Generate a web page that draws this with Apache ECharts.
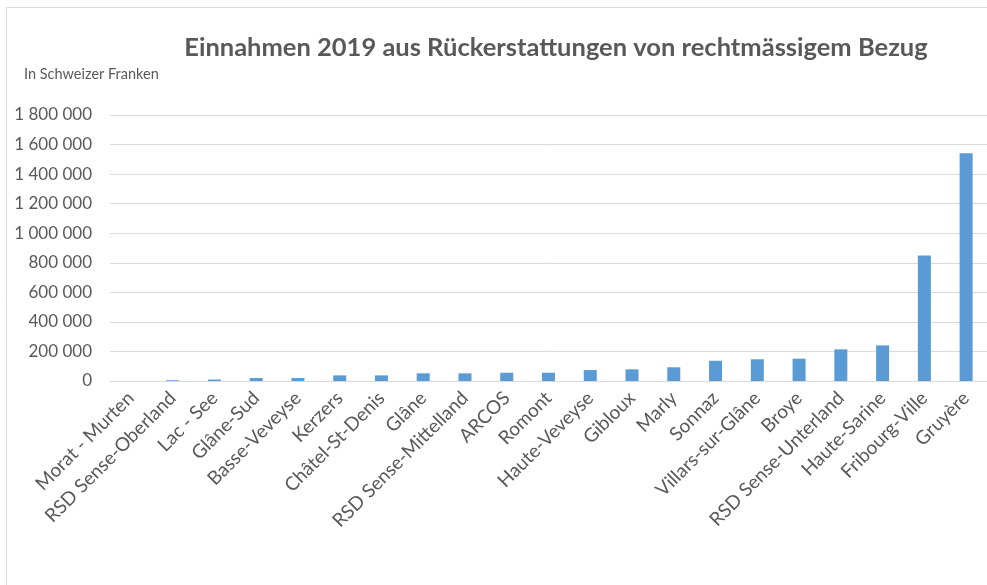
<!DOCTYPE html>
<html>
<head>
<meta charset="utf-8">
<script src="https://cdn.jsdelivr.net/npm/echarts@6/dist/echarts.min.js"></script>
<style>
  html, body { margin: 0; padding: 0; background: #fff; }
  #chart { width: 987px; height: 585px; }
</style>
</head>
<body>
<div id="chart"></div>
<script>
// Regionen (sortiert nach Betrag)
const regions = [
  'Morat - Murten', 'RSD Sense-Oberland', 'Lac - See', 'Glâne-Sud', 'Basse-Veveyse',
  'Kerzers', 'Châtel-St-Denis', 'Glâne', 'RSD Sense-Mittelland', 'ARCOS',
  'Romont', 'Haute-Veveyse', 'Gibloux', 'Marly', 'Sonnaz',
  'Villars-sur-Glâne', 'Broye', 'RSD Sense-Unterland', 'Haute-Sarine', 'Fribourg-Ville',
  'Gruyère'
]
// Einnahmen in CHF (aus dem Bild geschätzt)
const amounts = [
  0, 5000, 10000, 20000, 20000,
  38000, 38000, 52000, 52000, 56000,
  56000, 74000, 79000, 93000, 137000,
  147000, 151000, 214000, 241000, 850000,
  1542000
]
const yMin = 0
const yMax = 1800000
const yStep = 200000

const chart = echarts.init(document.getElementById('chart'))
const grey = '#595959'

// Tausender mit Leerzeichen
function fmt(v) {
  return String(v).replace(/\B(?=(\d{3})+(?!\d))/g, ' ')
}

const option = {
  animation: false,
  textStyle: { fontFamily: 'Lato' },
  title: [
    {
      text: 'Einnahmen 2019 aus Rückerstattungen von rechtmässigem Bezug',
      left: 551,
      textAlign: 'center',
      top: 30,
      textStyle: { fontFamily: 'Lato', fontWeight: 'bold', fontSize: 25.5, color: grey }
    },
    {
      text: 'In Schweizer Franken',
      left: 19,
      top: 62,
      textStyle: { fontFamily: 'Lato', fontWeight: 'normal', fontSize: 14.5, color: grey }
    }
  ],
  graphic: [
    { type: 'line', shape: { x1: 6.5, y1: 7.5, x2: 987, y2: 7.5 }, style: { stroke: '#d9d9d9', lineWidth: 1 } },
    { type: 'line', shape: { x1: 6.5, y1: 7.5, x2: 6.5, y2: 585 }, style: { stroke: '#d9d9d9', lineWidth: 1 } }
  ],
  grid: { left: 110, right: 0, top: 115, bottom: 204 },
  xAxis: {
    type: 'category',
    data: regions,
    axisLine: { lineStyle: { color: '#d9d9d9' } },
    axisTick: { show: false },
    axisLabel: { interval: 0, rotate: 45, fontSize: 19, color: grey, margin: 14 }
  },
  yAxis: {
    type: 'value',
    min: yMin,
    max: yMax,
    interval: yStep,
    axisLine: { show: false },
    axisTick: { show: false },
    splitLine: { lineStyle: { color: '#d9d9d9' } },
    axisLabel: { fontSize: 17, color: grey, margin: 18, formatter: fmt }
  },
  series: [
    {
      type: 'bar',
      data: amounts,
      barWidth: 13,
      itemStyle: { color: '#5b9bd5' }
    }
  ]
}
chart.setOption(option)
</script>
</body>
</html>
